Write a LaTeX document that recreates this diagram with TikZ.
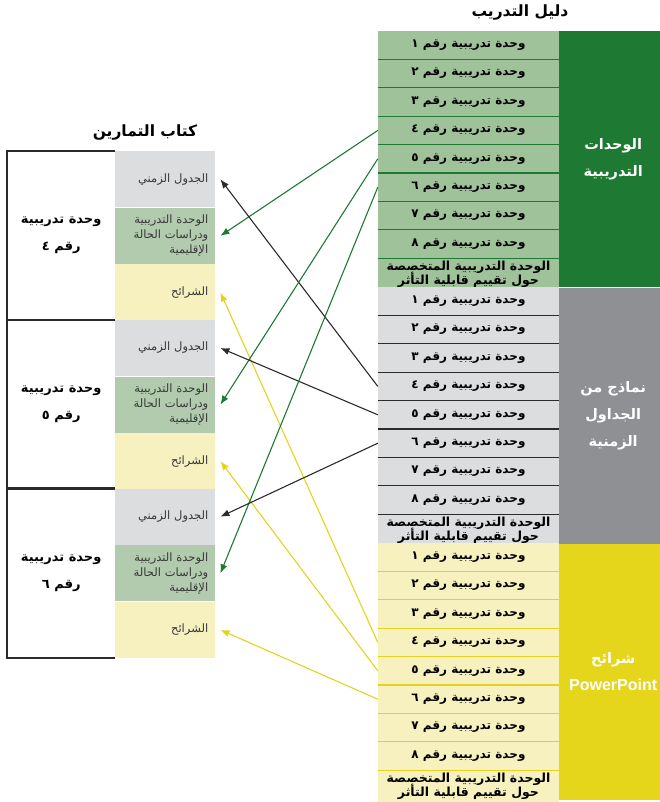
\documentclass[tikz,border=0pt]{standalone}
\usepackage{fontspec}
\newfontfamily\arabicfont[Script=Arabic]{DejaVu Sans}
\newfontfamily\latinbold{Liberation Sans}
\TeXXeTstate=1
\usetikzlibrary{positioning,arrows.meta}

\definecolor{unitdark}{HTML}{1E7A32}
\definecolor{unitlight}{HTML}{A0C29B}
\definecolor{unitcell}{HTML}{B2CBAE}
\definecolor{timedark}{HTML}{8F9094}
\definecolor{timelight}{HTML}{DCDDDF}
\definecolor{slidedark}{HTML}{E5D51B}
\definecolor{slidelight}{HTML}{F7F0BF}
\definecolor{slideline}{HTML}{E6D21E}
\definecolor{framegray}{HTML}{2B2B2B}

\newcommand{\artxt}[1]{\beginR #1\endR}
\newcommand{\tightlines}{\lineskiplimit=-20pt\relax}

\begin{document}
\begin{tikzpicture}[x=1pt, y=-1pt, node distance=0pt, font=\arabicfont,
    guiderow/.style={minimum width=181pt, minimum height=28pt, inner sep=0pt,
      anchor=north, font=\arabicfont\bfseries\fontsize{12}{12.5}\selectfont},
    lastrow/.style={guiderow, minimum height=32pt, align=center,
      font=\arabicfont\bfseries\fontsize{12.5}{13.5}\selectfont\tightlines},
    band/.style={anchor=north west, minimum width=108pt, minimum height=256pt,
      inner sep=0pt, text=white, align=center,
      font=\arabicfont\bfseries\fontsize{14.5}{27}\selectfont},
    cell/.style={anchor=north west, minimum width=100pt, minimum height=56.2pt,
      inner xsep=7pt, inner ysep=0pt, text width=86pt, align=right,
      text=black!78, font=\arabicfont\fontsize{11.5}{15}\selectfont},
    unitbox/.style={anchor=north west, minimum width=108pt, minimum height=168.7pt,
      inner sep=0pt, align=center, font=\arabicfont\bfseries\fontsize{13}{27}\selectfont},
    title/.style={font=\arabicfont\bfseries\fontsize{15.5}{17}\selectfont},
    sep/.style={line width=1.2pt},
    frame/.style={line width=2pt, draw=framegray},
    link/.style={-{Latex[length=9pt,width=7pt]}, line width=1.1pt}]
  \useasboundingbox (0,0) rectangle (659,802);
  % training guide
  \node[title] (guidetitle) at (520,13) {\artxt{دليل التدريب}};%
  \foreach \sec/\shade/\lc/\ytop in {ug/unitlight/unitdark/31,
      tg/timelight/framegray/287, sg/slidelight/slideline/543} {
    \node[guiderow, fill=\shade] (\sec1) at (468.5,\ytop) {\artxt{وحدة تدريبية رقم ١}};%
    \foreach \n/\d [count=\p] in {2/٢,3/٣,4/٤,5/٥,6/٦,7/٧,8/٨}
      \node[guiderow, fill=\shade] (\sec\n) [below=of \sec\p] {\artxt{وحدة تدريبية رقم \d}};%
    \node[lastrow, fill=\shade] (\sec9) [below=of \sec8]
      {\artxt{الوحدة التدريبية المتخصصة}\\\artxt{حول تقييم قابلية التأثر}};%
    \foreach \n in {1,...,8}
      \draw[sep, \lc] (\sec\n.south west) -- (\sec\n.south east);
  }
  \node[band, fill=unitdark] (ugband) at (559,31) {\artxt{الوحدات}\\\artxt{التدريبية}};%
  \node[band, fill=timedark] (tgband) [below=of ugband]
    {\artxt{نماذج من}\\\artxt{الجداول}\\\artxt{الزمنية}};%
  \node[band, fill=slidedark] (sgband) [below=of tgband]
    {\artxt{شرائح}\\{\latinbold\bfseries\fontsize{16}{18}\selectfont PowerPoint}};%
  % exercise book
  \node[title] (booktitle) at (145,133) {\artxt{كتاب التمارين}};%
  \foreach \b/\d in {1/٤,2/٥,3/٦} {
    \pgfmathsetmacro\ytop{151+(\b-1)*168.7}
    \node[unitbox] (box\b) at (7,\ytop) {\artxt{وحدة تدريبية}\\\artxt{رقم \d}};%
    \node[cell, fill=timelight] (cal\b) at (115,\ytop) {\artxt{الجدول الزمني}};%
    \node[cell, fill=unitcell] (unit\b) [below=of cal\b]
      {\artxt{الوحدة التدريبية}\\\artxt{ودراسات الحالة}\\\artxt{الإقليمية}};%
    \node[cell, fill=slidelight] (sld\b) [below=of unit\b] {\artxt{الشرائح}};%
    \draw[frame] (box\b.north east) -- (box\b.north west) -- (box\b.south west)
      -- (box\b.south east);
  }
  % links
  \foreach \r/\b in {4/1,5/2,6/3} {
    \draw[link, slideline] (sg\r.west) -- ([xshift=5pt]sld\b.east);
    \draw[link, unitdark] (ug\r.west) -- ([xshift=5pt]unit\b.east);
    \draw[link, framegray] (tg\r.west) -- ([xshift=5pt]cal\b.east);
  }
\end{tikzpicture}
\end{document}
